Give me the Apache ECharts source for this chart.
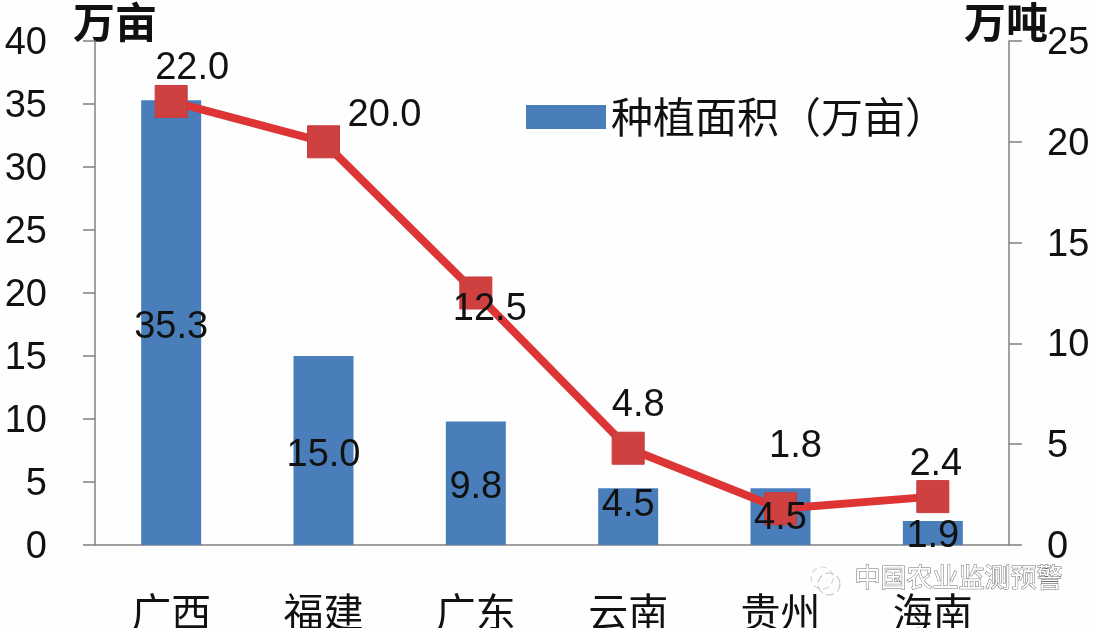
<!DOCTYPE html>
<html><head><meta charset="utf-8">
<style>html,body{margin:0;padding:0;background:#fefefe}#c{width:1096px;height:628px}</style>
<script src="https://cdn.jsdelivr.net/npm/echarts@6/dist/echarts.min.js"></script>
</head><body><div id="c"></div>
<script>
const categories = ['广西','福建','广东','云南','贵州','海南'];
const areaValues = [35.3,15.0,9.8,4.5,4.5,1.9];
const outputValues = [22.0,20.0,12.5,4.8,1.8,2.4];
const areaName = '种植面积（万亩）';
const outputName = '产量（万吨）';
const leftUnit = '万亩';
const rightUnit = '万吨';
const watermark = '中国农业监测预警';
const lineLabelOffsets = [[21,8],[61,14],[14,57],[10,-2],[15,-22],[3,8]];
const barLabelOffsets = [5,5,4,-11,2,3];

const latin = '"Liberation Sans"';
const cjk = '"Noto Sans CJK SC"';
const chart = echarts.init(document.getElementById('c'));
const fmt = p=>p.value.toFixed(1);
const tickRich = {a:{fontFamily:latin,fontSize:38,color:'#111',padding:[5,0,0,0]}};
chart.setOption({
  animation:false,
  backgroundColor:'#fefefe',
  grid:{left:95,right:87,top:41,bottom:83,outerBoundsMode:'none'},
  legend:{
    data:[{name:areaName,icon:'rect'}],left:521,top:91,itemWidth:80,itemHeight:24,itemGap:12,
    selectedMode:false,
    textStyle:{fontFamily:cjk,fontSize:42,color:'#111'}
  },
  xAxis:{
    type:'category',data:categories,
    axisLine:{lineStyle:{color:'#808080',width:1.5}},
    axisTick:{alignWithLabel:false,length:13,lineStyle:{color:'#808080',width:1.5}},
    axisLabel:{fontFamily:cjk,fontSize:40,color:'#111',margin:47}
  },
  yAxis:[{
    type:'value',min:0,max:40,interval:5,
    name:leftUnit,nameLocation:'end',nameGap:19,nameMoveOverlap:false,
    nameTextStyle:{fontFamily:cjk,fontSize:42,fontWeight:'bold',color:'#111',align:'center',verticalAlign:'middle',padding:[0,0,0,40]},
    splitLine:{show:false},
    axisLine:{show:true,lineStyle:{color:'#808080',width:1.5}},
    axisTick:{show:true,length:12,lineStyle:{color:'#808080',width:1.5}},
    axisLabel:{margin:48,formatter:'{a|{value}}',rich:tickRich}
  },{
    type:'value',min:0,max:25,interval:5,position:'right',
    name:rightUnit,nameLocation:'end',nameGap:19,nameMoveOverlap:false,
    nameTextStyle:{fontFamily:cjk,fontSize:42,fontWeight:'bold',color:'#111',align:'center',verticalAlign:'middle',padding:[0,6,0,0]},
    splitLine:{show:false},
    axisLine:{show:true,lineStyle:{color:'#808080',width:1.5}},
    axisTick:{show:true,length:13,lineStyle:{color:'#808080',width:1.5}},
    axisLabel:{margin:38,formatter:'{a|{value}}',rich:tickRich}
  }],
  series:[{
    type:'bar',name:areaName,data:areaValues,barWidth:60,z:2,
    itemStyle:{color:'#4a7ebb'}
  },{
    type:'line',name:outputName,data:outputValues,yAxisIndex:1,z:3,
    symbol:'rect',symbolSize:32,
    lineStyle:{color:'#dd3535',width:8},
    itemStyle:{color:'#cf4140',borderColor:'#c83a3a',borderWidth:1},
    label:{show:true,position:'top',formatter:fmt,fontFamily:latin,fontSize:38,color:'#111'},
    labelLayout:p=>({hideOverlap:false,dx:lineLabelOffsets[p.dataIndex][0],dy:lineLabelOffsets[p.dataIndex][1]})
  },{
    type:'bar',name:'labels',data:areaValues,barWidth:60,barGap:'-100%',z:4,
    itemStyle:{color:'rgba(0,0,0,0)'},
    label:{show:true,position:'inside',formatter:fmt,fontFamily:latin,fontSize:38,color:'#111'},
    labelLayout:p=>({hideOverlap:false,dy:barLabelOffsets[p.dataIndex]})
  }],
  graphic:[{
    type:'text',z:100,left:854,top:564,
    style:{text:watermark,fontFamily:cjk,fontSize:26,fill:'#ffffff',stroke:'#707070',lineWidth:1}
  },{
    type:'circle',z:100,shape:{cx:822,cy:578,r:11},style:{fill:'none',stroke:'#d5d5d5',lineWidth:1.2,lineDash:[6,4]}
  },{
    type:'circle',z:100,shape:{cx:829,cy:584,r:11},style:{fill:'none',stroke:'#c5c5c5',lineWidth:1.2,lineDash:[8,4]}
  }]
});
</script></body></html>
